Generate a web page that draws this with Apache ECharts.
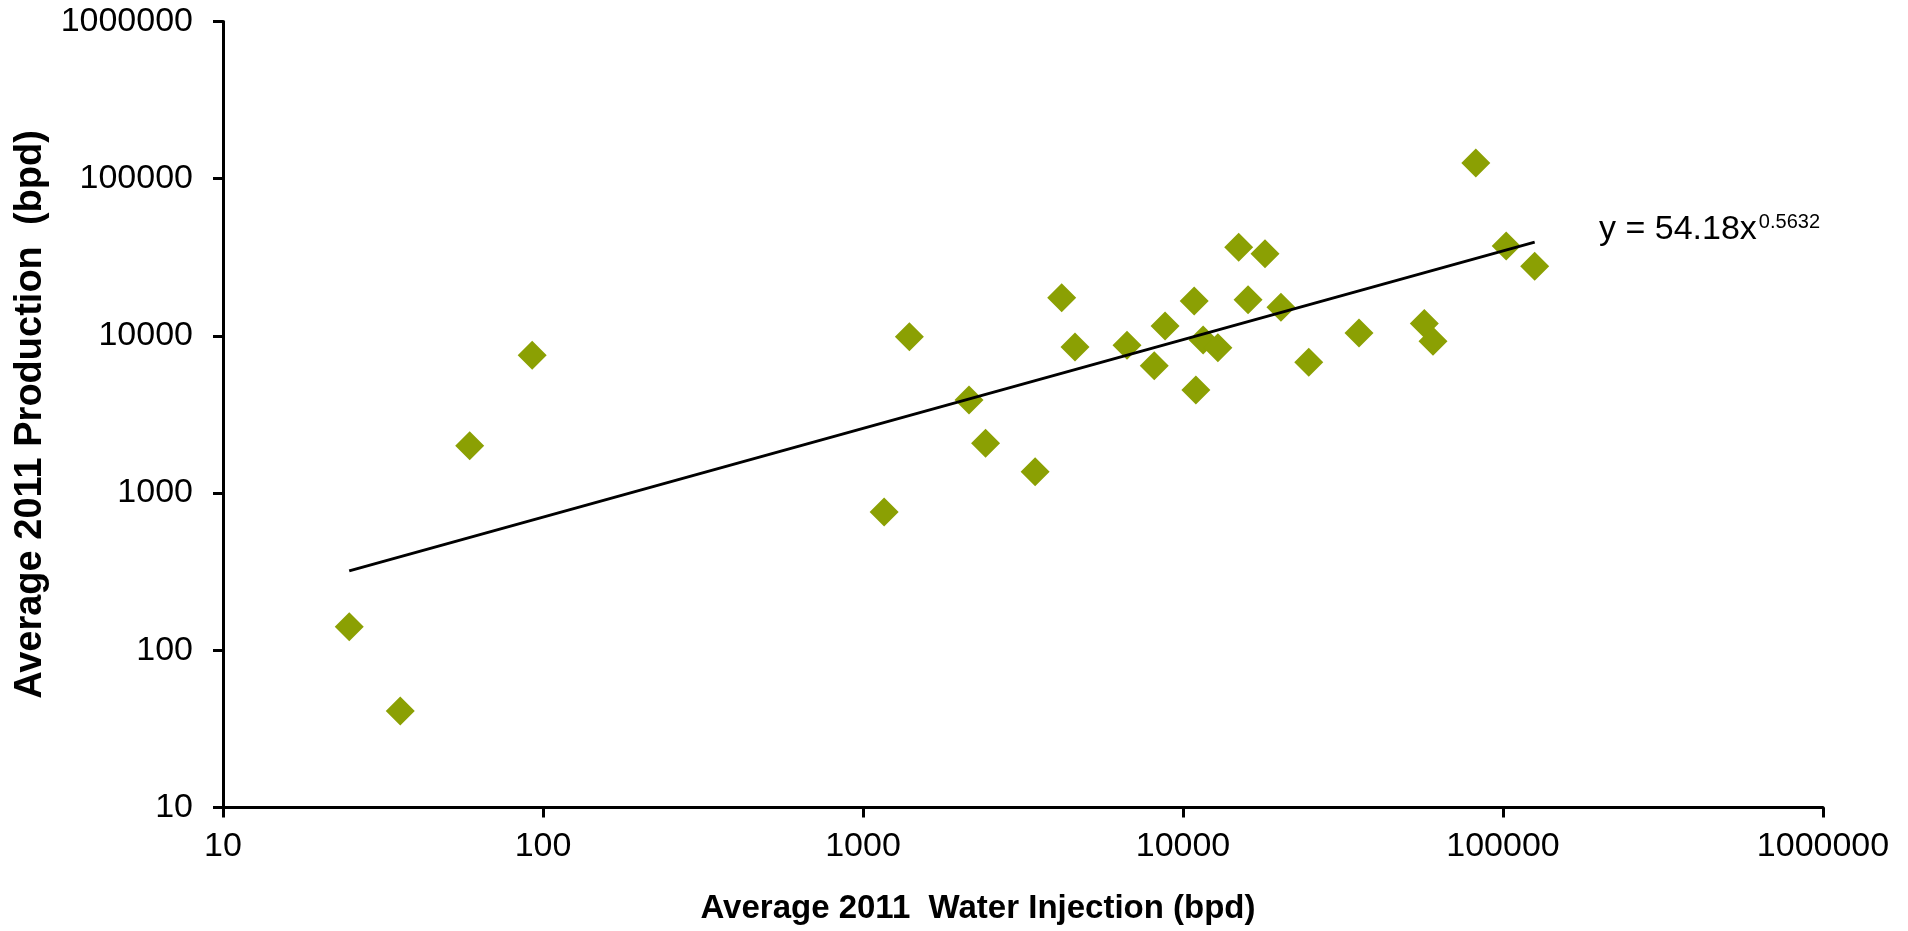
<!DOCTYPE html>
<html>
<head>
<meta charset="utf-8">
<script src="https://cdn.jsdelivr.net/npm/echarts/dist/echarts.min.js"></script>
<style>
html,body{margin:0;padding:0;background:#fff;}
#chart{width:1908px;height:931px;}
</style>
</head>
<body>
<div id="chart"></div>
<script>
// Average 2011 water injection (bpd) per point
const injection = [24.8, 35.8, 59.0, 92.5, 1164, 1396, 2144, 2416, 3451, 4178, 4597, 6683, 8130, 8790, 10840, 10970, 11560, 12850, 14930, 15970, 18040, 20230, 24720, 35480, 56760, 60420, 82220, 102300, 125600];
// Average 2011 production (bpd) per point
const production = [141, 41.1, 2000, 7530, 759, 9880, 3907, 2075, 1368, 17500, 8490, 8710, 6460, 11560, 16680, 4530, 9420, 8410, 36640, 16980, 33350, 15210, 6790, 10420, 11970, 9250, 125900, 37330, 27730];
// Power trend line end points
const trendX = [24.8, 125600];
const trendY = [320, 39500];
// Tick labels
const xTickLabels = ['10', '100', '1000', '10000', '100000', '1000000'];
const yTickLabels = ['10', '100', '1000', '10000', '100000', '1000000'];
const equationMain = 'y = 54.18x';
const equationExp = '0.5632';

const FONT = "'Liberation Sans', Arial, sans-serif";
const tickFmt = labels => v => {
  const i = Math.round(Math.log10(v)) - 1;
  return labels[i] !== undefined ? labels[i] : '';
};

const chart = echarts.init(document.getElementById('chart'), null, {renderer: 'canvas'});
chart.setOption({
  backgroundColor: '#ffffff',
  animation: false,
  grid: {left: 223, right: 85, top: 21.5, bottom: 123.5, containLabel: false},
  xAxis: {
    type: 'log', logBase: 10, min: 10, max: 1000000,
    name: 'Average 2011  Water Injection (bpd)',
    nameLocation: 'middle', nameGap: 85,
    nameTextStyle: {fontFamily: FONT, fontWeight: 'bold', fontSize: 33, color: '#000', padding: [0, 90, 0, 0]},
    axisLine: {show: true, lineStyle: {color: '#000', width: 3}},
    axisTick: {show: true, length: 10, lineStyle: {color: '#000', width: 3}},
    minorTick: {show: false},
    splitLine: {show: false},
    axisLabel: {fontFamily: FONT, fontSize: 34, color: '#000', margin: 22, formatter: tickFmt(xTickLabels)}
  },
  yAxis: {
    type: 'log', logBase: 10, min: 10, max: 1000000,
    name: 'Average 2011 Production  (bpd)',
    nameLocation: 'middle', nameGap: 172, nameRotate: 90,
    nameTextStyle: {fontFamily: FONT, fontWeight: 'bold', fontSize: 38, color: '#000'},
    axisLine: {show: true, lineStyle: {color: '#000', width: 3}},
    axisTick: {show: true, length: 10, lineStyle: {color: '#000', width: 3}},
    splitLine: {show: false},
    axisLabel: {fontFamily: FONT, fontSize: 34, color: '#000', margin: 30, formatter: tickFmt(yTickLabels)}
  },
  graphic: [{
    type: 'text', left: 1599, top: 212, z: 100,
    style: {
      text: '{m|' + equationMain + '}{s|' + equationExp + '}',
      rich: {
        m: {fontFamily: FONT, fontSize: 34, color: '#000', lineHeight: 36},
        s: {fontFamily: FONT, fontSize: 20, color: '#000', verticalAlign: 'top', lineHeight: 20, padding: [0, 0, 0, 2]}
      }
    }
  }],
  series: [{
    type: 'scatter',
    symbol: 'diamond',
    symbolSize: 29,
    itemStyle: {color: '#8BA003', opacity: 1},
    data: injection.map((x, i) => [x, production[i]]),
    z: 2
  }, {
    type: 'line',
    showSymbol: false,
    symbol: 'none',
    lineStyle: {color: '#000', width: 3},
    data: trendX.map((x, i) => [x, trendY[i]]),
    z: 3
  }]
});
</script>
</body>
</html>
